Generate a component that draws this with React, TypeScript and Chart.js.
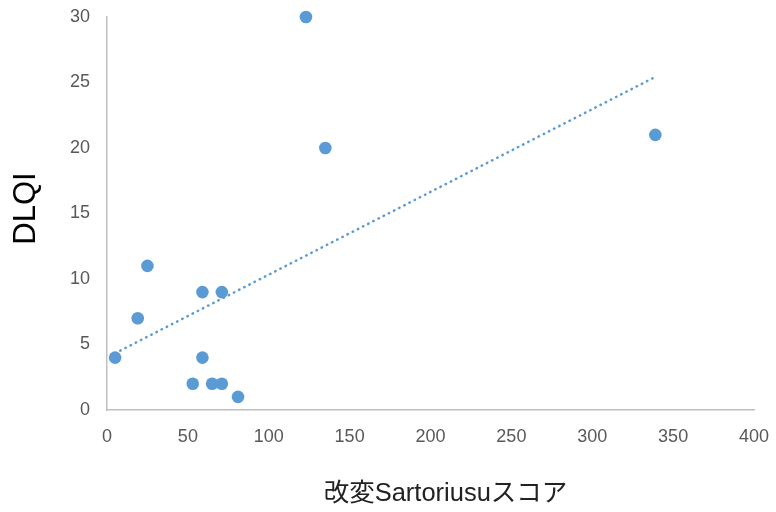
import React, { useEffect, useRef } from "react";
import { Chart, registerables } from "chart.js";

Chart.register(...registerables);

const sartoriusScores = [5, 19, 25, 53, 59, 59, 65, 71, 71, 81, 123, 135, 339];
const dlqiScores = [4, 7, 11, 2, 9, 4, 2, 2, 9, 1, 30, 20, 21];
const xTitle = "改変Sartoriusuスコア";
const yTitle = "DLQI";

const POINT_COLOR = "#5B9BD5";
const FONT = "'Liberation Sans', Arial, 'Noto Sans CJK JP', sans-serif";

function linearFit(xs: number[], ys: number[]) {
  const n = xs.length;
  const mx = xs.reduce((a, b) => a + b, 0) / n;
  const my = ys.reduce((a, b) => a + b, 0) / n;
  let sxy = 0;
  let sxx = 0;
  for (let i = 0; i < n; i++) {
    sxy += (xs[i] - mx) * (ys[i] - my);
    sxx += (xs[i] - mx) * (xs[i] - mx);
  }
  const slope = sxy / sxx;
  return { slope, intercept: my - slope * mx };
}

const axisTitlePlugin = {
  id: "axisTitles",
  afterDraw(chart: any) {
    const ctx = chart.ctx;
    const area = chart.chartArea;
    ctx.save();
    ctx.textAlign = "center";
    ctx.textBaseline = "middle";
    // x title
    ctx.fillStyle = "#222222";
    ctx.font = `25.5px ${FONT}`;
    ctx.fillText(xTitle, (area.left + area.right) / 2 + 15, chart.height - 18);
    // y title
    ctx.fillStyle = "#000000";
    ctx.font = `31px ${FONT}`;
    ctx.translate(26, (area.top + area.bottom) / 2 - 5);
    ctx.rotate(-Math.PI / 2);
    ctx.fillText(yTitle, 0, 0);
    ctx.restore();
  },
};

export default function App() {
  const ref = useRef<HTMLCanvasElement | null>(null);

  useEffect(() => {
    document.body.style.margin = "0";
    if (!ref.current) return;
    const pts = sartoriusScores.map((x, i) => ({ x, y: dlqiScores[i] }));
    const { slope, intercept } = linearFit(sartoriusScores, dlqiScores);
    const xMin = Math.min(...sartoriusScores);
    const xMax = Math.max(...sartoriusScores);
    const trend = [
      { x: xMin, y: intercept + slope * xMin },
      { x: xMax, y: intercept + slope * xMax },
    ];

    const chart = new Chart(ref.current, {
      type: "scatter",
      data: {
        datasets: [
          {
            type: "scatter",
            data: pts,
            backgroundColor: POINT_COLOR,
            borderWidth: 0,
            pointRadius: 6.3,
            pointHoverRadius: 6.3,
            clip: false,
            order: 1,
          } as any,
          {
            type: "line",
            data: trend,
            borderColor: POINT_COLOR,
            borderWidth: 2.5,
            borderCapStyle: "round",
            borderDash: [0.5, 5.3],
            pointRadius: 0,
            fill: false,
            showLine: true,
            clip: false,
            order: 2,
          } as any,
        ],
      },
      plugins: [axisTitlePlugin],
      options: {
        animation: false,
        responsive: false,
        maintainAspectRatio: false,
        layout: { padding: { top: 17, right: 22, left: 0, bottom: 0 } },
        plugins: {
          legend: { display: false },
          tooltip: { enabled: false },
        },
        scales: {
          x: {
            type: "linear",
            min: 0,
            max: 400,
            ticks: {
              stepSize: 50,
              color: "#595959",
              padding: 16,
              font: { family: FONT, size: 18 },
            },
            grid: { display: true, drawOnChartArea: false, drawTicks: false },
            border: { color: "#BFBFBF", width: 1.5 },
            title: { display: false },
            afterFit: (scale: any) => {
              scale.height = 102;
              scale.paddingLeft = 0;
              scale.paddingRight = 0;
              scale.paddingTop = 0;
              scale.paddingBottom = 0;
            },
          },
          y: {
            type: "linear",
            min: 0,
            max: 30,
            ticks: {
              stepSize: 5,
              color: "#595959",
              padding: 17,
              font: { family: FONT, size: 18 },
            },
            grid: { display: true, drawOnChartArea: false, drawTicks: false },
            border: { color: "#BFBFBF", width: 1.5 },
            title: { display: false },
            afterFit: (scale: any) => {
              scale.width = 107;
              scale.paddingLeft = 0;
              scale.paddingRight = 0;
              scale.paddingTop = 0;
              scale.paddingBottom = 0;
            },
          },
        },
      },
    });
    return () => chart.destroy();
  }, []);

  return (
    <div style={{ position: "absolute", left: 0, top: 0, width: 776, height: 512 }}>
      <canvas ref={ref} width={776} height={512} style={{ width: 776, height: 512 }} />
    </div>
  );
}
